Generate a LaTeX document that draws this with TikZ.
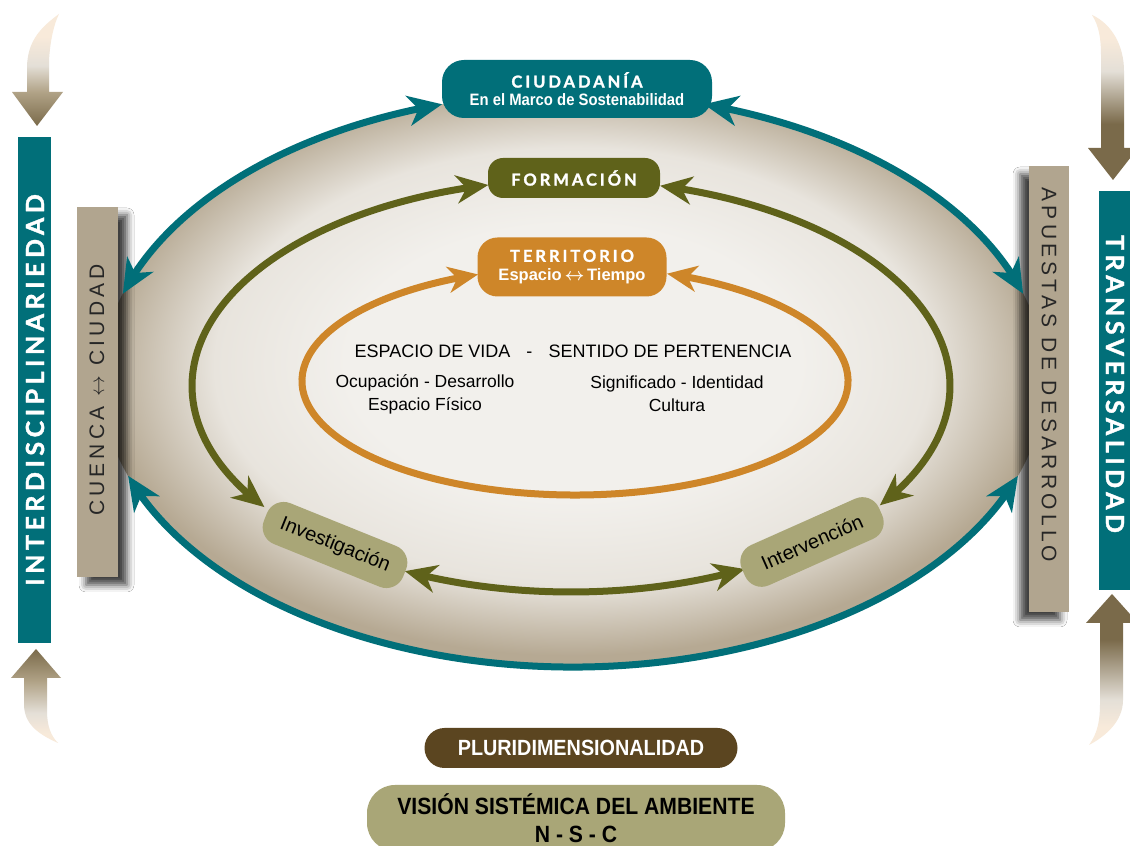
\documentclass[tikz,border=0pt]{standalone}
\usepackage{fontspec}
\setmainfont{Liberation Sans}
\newfontfamily\titlefont[LetterSpace=18, FakeBold=1.5]{Lato}
\newfontfamily\narrowfont[FakeStretch=0.9]{Liberation Sans}
\newfontfamily\spacedfont[LetterSpace=20]{Liberation Sans}
\usetikzlibrary{arrows.meta,shadows.blur,calc,bending}

\definecolor{teal1}{HTML}{016F79}
\definecolor{olive1}{HTML}{5F621A}
\definecolor{orange1}{HTML}{CE8629}
\definecolor{khaki1}{HTML}{A9A677}
\definecolor{brown1}{HTML}{5B4520}
\definecolor{tan1}{HTML}{B1A58F}
\definecolor{tan2}{HTML}{B0A286}
\definecolor{cream1}{HTML}{F8EADA}
\definecolor{mid1}{HTML}{E4DFD7}
\definecolor{dark1}{HTML}{7A6A4A}
\definecolor{ellin}{HTML}{F2F0EC}
\definecolor{ellmid}{HTML}{E8E4DD}
\definecolor{ellout}{HTML}{B6A993}

\pgfdeclareradialshading{ellshade}{\pgfpoint{0bp}{2bp}}{color(0bp)=(ellin); color(12bp)=(ellin); color(19bp)=(ellmid); color(25bp)=(ellout); color(50bp)=(ellout)}
\pgfdeclareverticalshading{arrowTL}{100bp}{color(0bp)=(dark1); color(25bp)=(dark1); color(40bp)=(tan2); color(52bp)=(mid1); color(65bp)=(cream1); color(100bp)=(cream1)}
\pgfdeclareverticalshading{arrowTR}{100bp}{color(0bp)=(dark1); color(42bp)=(dark1); color(58bp)=(mid1); color(68bp)=(cream1); color(100bp)=(cream1)}
\pgfdeclareverticalshading{arrowBL}{100bp}{color(0bp)=(cream1); color(30bp)=(cream1); color(41bp)=(mid1); color(58bp)=(tan2); color(75bp)=(dark1); color(100bp)=(dark1)}
\pgfdeclareverticalshading{arrowBR}{100bp}{color(0bp)=(cream1); color(31bp)=(cream1); color(40bp)=(mid1); color(60bp)=(dark1); color(100bp)=(dark1)}

\begin{document}
\begin{tikzpicture}[x=1pt,y=1pt,
  tealarc/.style={draw=teal1, line width=7pt, arrows={Stealth[length=34pt,width=30pt,inset=10pt]-Stealth[length=34pt,width=30pt,inset=10pt]}},
  olivearc/.style={draw=olive1, line width=7pt, arrows={Stealth[length=32pt,width=28pt,inset=10pt]-Stealth[length=32pt,width=28pt,inset=10pt]}},
  orangearc/.style={draw=orange1, line width=7pt, arrows={Stealth[length=30pt,width=26pt,inset=9pt]-Stealth[length=30pt,width=26pt,inset=9pt]}},
  barbox/.style={rectangle, inner sep=0pt},
  pillbox/.style={rectangle, inner sep=0pt, align=center},
  khakibox/.style={pillbox, fill=khaki1, rounded corners=18pt, minimum width=150pt, minimum height=44pt, font=\fontsize{20}{20}\selectfont},
  titletext/.style={font=\titlefont\bfseries\fontsize{16.5}{18}\selectfont},
  bartitle/.style={text=white, font=\titlefont\bfseries\fontsize{25}{25}\selectfont},
  bartext/.style={text=black!85, font=\spacedfont\fontsize{21}{21}\selectfont},
  shadowR/.style={blur shadow={shadow xshift=9pt, shadow yshift=-8pt, shadow blur radius=7pt, shadow opacity=75}},
  shadowL/.style={blur shadow={shadow xshift=-9pt, shadow yshift=-8pt, shadow blur radius=7pt, shadow opacity=75}}
]
\useasboundingbox (0,0) rectangle (1130,846);
\fill[white] (0,0) rectangle (1130,846);

% big background ellipse
\coordinate (C1) at (573,466);
\coordinate (C2) at (571,460);
\coordinate (C3) at (575,465);
\shade[shading=ellshade] (C1) ellipse [x radius=472pt, y radius=287pt];

% gradient side arrows
\shade[shading=arrowTL] (59,832) .. controls (40,818) and (28,805) .. (27,780) -- (27,754) -- (12,754) -- (37,720) -- (63,754) -- (49,754) -- (49,785) .. controls (50,805) and (54,822) .. (59,832) -- cycle;
\shade[shading=arrowBL] (36,197) -- (61,168) -- (47,168) -- (47,135) .. controls (47,120) and (51,110) .. (58,103) .. controls (38,112) and (24,122) .. (24,142) -- (24,168) -- (11,168) -- cycle;
\shade[shading=arrowTR] (1092,831) .. controls (1099,820) and (1101,808) .. (1101,790) -- (1101,698) -- (1088,698) -- (1113,666) -- (1138,698) -- (1124,698) -- (1124,775) .. controls (1124,800) and (1112,822) .. (1092,831) -- cycle;
\shade[shading=arrowBR] (1112,252) -- (1138,223) -- (1123,223) -- (1123,146) .. controls (1123,125) and (1106,110) .. (1089,101) .. controls (1097,112) and (1100,124) .. (1100,142) -- (1100,223) -- (1086,223) -- cycle;

% side bars
\node[barbox, fill=teal1, minimum width=33pt, minimum height=506pt] (interd) at (34.5,456) {};
\node[bartitle, rotate=90] (interdtxt) at (35,456) {INTERDISCIPLINARIEDAD};
\node[barbox, fill=tan1, minimum width=41pt, minimum height=370pt, shadowR] (cuenca) at (97.5,454) {};
\node[bartext, rotate=90] (cuencatxt) at (97,456) {CUENCA $\leftrightarrow$ CIUDAD};
\node[barbox, fill=tan1, minimum width=40pt, minimum height=446pt, shadowL] (apuestas) at (1049,457) {};
\node[bartext, rotate=-90] (apuestastxt) at (1049,471) {APUESTAS DE DESARROLLO};
\node[barbox, fill=teal1, minimum width=34pt, minimum height=399pt] (transv) at (1116,455.5) {};
\node[bartitle, rotate=-90] (transvtxt) at (1115,462) {TRANSVERSALIDAD};

% teal ring (three connectors)
\coordinate (tA) at ($(C1)+(106.1:472pt and 287pt)$);
\coordinate (tB) at ($(C1)+(199.5:472pt and 287pt)$);
\coordinate (tC) at ($(C1)+(17.5:472pt and 287pt)$);
\draw[tealarc] (tA) arc[start angle=106.1, end angle=162.5, x radius=472pt, y radius=287pt];
\draw[tealarc] (tB) arc[start angle=199.5, end angle=340.5, x radius=472pt, y radius=287pt];
\draw[tealarc] (tC) arc[start angle=17.5, end angle=73.9, x radius=472pt, y radius=287pt];

% olive ring
\coordinate (gA) at ($(C2)+(102.6:379pt and 206pt)$);
\coordinate (gB) at ($(C2)+(244:379pt and 206pt)$);
\coordinate (gC) at ($(C2)+(324.6:379pt and 206pt)$);
\draw[olivearc] (gA) arc[start angle=102.6, end angle=216, x radius=379pt, y radius=206pt];
\draw[olivearc] (gB) arc[start angle=244, end angle=297.3, x radius=379pt, y radius=206pt];
\draw[olivearc] (gC) arc[start angle=324.6, end angle=436.4, x radius=379pt, y radius=206pt];

% orange ring
\coordinate (oA) at ($(C3)+(110.8:273pt and 114pt)$);
\draw[orangearc] (oA) arc[start angle=110.8, end angle=430.3, x radius=273pt, y radius=114pt];

% main nodes
\node[pillbox, fill=teal1, rounded corners=22pt, minimum width=270pt, minimum height=58pt, text=white, font=\narrowfont\bfseries\fontsize{16.5}{18}\selectfont] (ciud) at (577,757)
  {{\titlefont\bfseries\fontsize{16.5}{18}\selectfont CIUDADANÍA}\\En el Marco de Sostenabilidad};
\node[pillbox, fill=olive1, rounded corners=15pt, minimum width=172pt, minimum height=40pt, text=white, titletext] (form) at (574,668) {FORMACIÓN};
\node[pillbox, fill=orange1, rounded corners=20pt, minimum width=189pt, minimum height=59pt, text=white, font=\bfseries\fontsize{16.5}{19}\selectfont] (terr) at (572,579)
  {{\titlefont\bfseries\fontsize{16.5}{18}\selectfont TERRITORIO}\\Espacio\,{\boldmath$\leftrightarrow$}\,Tiempo};
\node[khakibox, rotate=-22] (inv) at (335,301) {Investigación};
\node[khakibox, rotate=24] (int) at (812,304) {Intervención};

% inner texts
\node[font=\fontsize{18}{20}\selectfont] (espvida) at (573,495) {ESPACIO DE VIDA\hspace{0.9em}-\hspace{0.9em}SENTIDO DE PERTENENCIA};
\node[align=center, font=\fontsize{17.5}{23}\selectfont] (ocup) at (425,452) {Ocupación - Desarrollo\\Espacio Físico};
\node[align=center, font=\fontsize{17.5}{23}\selectfont] (signif) at (677,452) {Significado - Identidad\\Cultura};

% bottom nodes
\node[pillbox, fill=brown1, rounded corners=20pt, minimum width=313pt, minimum height=40pt, text=white, font=\narrowfont\bfseries\fontsize{22}{22}\selectfont] (pluri) at (581,98) {PLURIDIMENSIONALIDAD};
\node[pillbox, fill=khaki1, rounded corners=28pt, minimum width=418pt, minimum height=66pt, text=black, font=\narrowfont\bfseries\fontsize{23.5}{28}\selectfont] (vision) at (576,28) {VISIÓN SISTÉMICA DEL AMBIENTE\\N - S - C};
\end{tikzpicture}
\end{document}
